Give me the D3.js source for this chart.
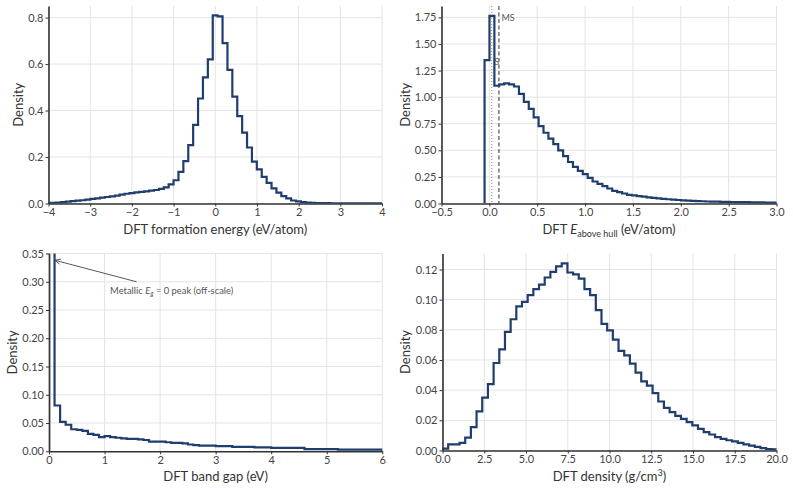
<!DOCTYPE html>
<html>
<head>
<meta charset="utf-8">
<script src="https://cdn.jsdelivr.net/npm/d3@7"></script>
<style>
body { margin: 0; background: #fff; }
svg { font-family: Lato, "DejaVu Sans", sans-serif; }
</style>
</head>
<body>
<script>
// histogram data (bin start, bin width, density per bin)
var formationStart = -4.055, formationWidth = 0.1175;
var formationDensity = [
  0.002, 0.003, 0.004, 0.006, 0.008, 0.010, 0.012, 0.014, 0.017, 0.020,
  0.022, 0.025, 0.028, 0.031, 0.034, 0.038, 0.042, 0.045, 0.048, 0.050,
  0.052, 0.055, 0.058, 0.063, 0.069, 0.082, 0.100, 0.136, 0.182, 0.251,
  0.338, 0.452, 0.543, 0.620, 0.810, 0.805, 0.690, 0.575, 0.460, 0.376,
  0.305, 0.241, 0.180, 0.147, 0.115, 0.089, 0.065, 0.047, 0.032, 0.022,
  0.013, 0.009, 0.006, 0.004, 0.003, 0.002, 0.002, 0.0015, 0.001, 0.001,
  0.001, 0.0008, 0.0006, 0.0005, 0.0004, 0.0003, 0.0003, 0.0002, 0.0002
];

var hullStart = -0.05, hullWidth = 0.0513;
var hullDensity = [
  1.348, 1.765, 1.107, 1.120, 1.130, 1.120, 1.100, 1.030, 0.956, 0.890,
  0.810, 0.727, 0.665, 0.610, 0.558, 0.500, 0.445, 0.390, 0.345, 0.307,
  0.276, 0.241, 0.207, 0.185, 0.163, 0.141, 0.119, 0.107, 0.094, 0.082,
  0.076, 0.070, 0.064, 0.058, 0.053, 0.048, 0.044, 0.040, 0.036, 0.033,
  0.030, 0.027, 0.025, 0.023, 0.021, 0.019, 0.018, 0.017, 0.016, 0.015,
  0.014, 0.013, 0.012, 0.012, 0.011, 0.010, 0.010, 0.009, 0.009, 0.008
];

var gapStart = 0, gapWidth = 0.1;
var gapDensity = [
  3.0, 0.081, 0.052, 0.047, 0.039, 0.038, 0.036, 0.031, 0.029, 0.025,
  0.027, 0.025, 0.024, 0.023, 0.022, 0.022, 0.021, 0.020, 0.017, 0.017,
  0.017, 0.016, 0.015, 0.015, 0.014, 0.012, 0.011, 0.010, 0.010, 0.010,
  0.009, 0.009, 0.009, 0.008, 0.008, 0.008, 0.008, 0.007, 0.007, 0.007,
  0.006, 0.006, 0.006, 0.006, 0.006, 0.006, 0.004, 0.004, 0.004, 0.004,
  0.004, 0.004, 0.003, 0.003, 0.003, 0.003, 0.003, 0.003, 0.003, 0.003
];

var rhoStart = 0, rhoWidth = 0.34;
var rhoDensity = [
  0.0013, 0.004, 0.004, 0.005, 0.0085, 0.0155, 0.026, 0.035, 0.044, 0.058,
  0.067, 0.0786, 0.087, 0.0956, 0.0985, 0.103, 0.107, 0.110, 0.1147, 0.1184,
  0.122, 0.124, 0.118, 0.1167, 0.114, 0.107, 0.103, 0.093, 0.084, 0.0797,
  0.0735, 0.066, 0.063, 0.0576, 0.0516, 0.0458, 0.043, 0.038, 0.0325, 0.0283,
  0.0255, 0.023, 0.021, 0.0188, 0.0166, 0.0144, 0.0122, 0.0106, 0.0089, 0.0077,
  0.0068, 0.006, 0.0051, 0.004, 0.0032, 0.0024, 0.0016, 0.001, 0.0007, 0.0004
];

// thresholds in the E above hull panel
var stableCut = 0.025, metastableCut = 0.1;

// tick values
var formationTicksX = [-4, -3, -2, -1, 0, 1, 2, 3, 4];
var formationTicksY = [0, 0.2, 0.4, 0.6, 0.8];
var hullTicksX = [-0.5, 0, 0.5, 1, 1.5, 2, 2.5, 3];
var hullTicksY = [0, 0.25, 0.5, 0.75, 1, 1.25, 1.5, 1.75];
var gapTicksX = [0, 1, 2, 3, 4, 5, 6];
var gapTicksY = [0, 0.05, 0.1, 0.15, 0.2, 0.25, 0.3, 0.35];
var rhoTicksX = [0, 2.5, 5, 7.5, 10, 12.5, 15, 17.5, 20];
var rhoTicksY = [0, 0.02, 0.04, 0.06, 0.08, 0.1, 0.12];

var lineColor = '#1f3d6e';

var svg = d3.select('body').append('svg')
  .attr('width', 793)
  .attr('height', 490);

var defs = svg.append('defs');

var drawPanel = function(p) {
  var x = d3.scaleLinear().domain(p.xDomain).range([p.left, p.right]);
  var y = d3.scaleLinear().domain(p.yDomain).range([p.bottom, p.top]);
  var g = svg.append('g');

  // grid
  g.selectAll('.gx').data(p.ticksX).enter().append('line')
    .attr('x1', function(d) { return x(d); })
    .attr('x2', function(d) { return x(d); })
    .attr('y1', p.top).attr('y2', p.bottom)
    .attr('stroke', '#e4e4e4').attr('stroke-width', 1);
  g.selectAll('.gy').data(p.ticksY).enter().append('line')
    .attr('y1', function(d) { return y(d); })
    .attr('y2', function(d) { return y(d); })
    .attr('x1', p.left).attr('x2', p.right)
    .attr('stroke', '#e4e4e4').attr('stroke-width', 1);

  if (p.extra) p.extra(g, x, y);

  // step histogram
  var pts = [[p.start, 0]];
  p.values.forEach(function(v, i) {
    pts.push([p.start + i * p.width, v]);
    pts.push([p.start + (i + 1) * p.width, v]);
  });
  pts.push([p.start + p.values.length * p.width, 0]);

  defs.append('clipPath').attr('id', p.id)
    .append('rect')
    .attr('x', p.left).attr('y', p.top)
    .attr('width', p.right - p.left).attr('height', p.bottom - p.top);

  var line = d3.line()
    .x(function(d) { return x(d[0]); })
    .y(function(d) { return y(d[1]); });

  g.append('path')
    .attr('d', line(pts))
    .attr('clip-path', 'url(#' + p.id + ')')
    .attr('fill', 'none')
    .attr('stroke', lineColor)
    .attr('stroke-width', 2.2)
    .attr('stroke-linejoin', 'miter');

  if (p.after) p.after(g, x, y);

  // axes
  var ax = g.append('g').attr('transform', 'translate(0,' + p.bottom + ')')
    .call(d3.axisBottom(x).tickValues(p.ticksX).tickFormat(d3.format(p.fmtX))
      .tickSize(3).tickSizeOuter(0).tickPadding(2));
  var ay = g.append('g').attr('transform', 'translate(' + p.left + ',0)')
    .call(d3.axisLeft(y).tickValues(p.ticksY).tickFormat(d3.format(p.fmtY))
      .tickSize(3).tickSizeOuter(0).tickPadding(2));
  [ax, ay].forEach(function(a) {
    a.select('.domain').attr('stroke', '#333').attr('stroke-width', 1.6);
    a.selectAll('.tick line').attr('stroke', '#333');
    a.selectAll('.tick text').attr('fill', '#444')
      .style('font-size', '11px').style('font-family', 'Lato');
  });

  // labels
  var xt = g.append('text')
    .attr('x', (p.left + p.right) / 2)
    .attr('y', p.bottom + 30)
    .attr('text-anchor', 'middle')
    .attr('fill', '#333')
    .style('font-size', '13px');
  p.title(xt);

  g.append('text')
    .attr('transform', 'translate(' + p.ylabelX + ',' + ((p.top + p.bottom) / 2) + ') rotate(-90)')
    .attr('text-anchor', 'middle')
    .attr('dominant-baseline', 'central')
    .attr('fill', '#333')
    .style('font-size', '13px')
    .text('Density');
};

drawPanel({
  id: 'c1', left: 48.5, right: 382, top: 6, bottom: 203.5,
  xDomain: [-4, 4], yDomain: [0, 0.85],
  ticksX: formationTicksX, ticksY: formationTicksY, fmtX: 'd', fmtY: '.1f',
  start: formationStart, width: formationWidth, values: formationDensity,
  ylabelX: 18,
  title: function(t) { t.text('DFT formation energy (eV/atom)'); }
});

drawPanel({
  id: 'c2', left: 441.5, right: 776.5, top: 6, bottom: 203.5,
  xDomain: [-0.5, 3], yDomain: [0, 1.857],
  ticksX: hullTicksX, ticksY: hullTicksY, fmtX: '.1f', fmtY: '.2f',
  start: hullStart, width: hullWidth, values: hullDensity,
  ylabelX: 405,
  extra: function(g, x, y) {
    g.append('line')
      .attr('x1', x(stableCut)).attr('x2', x(stableCut))
      .attr('y1', y.range()[1]).attr('y2', y.range()[0])
      .attr('stroke', '#888').attr('stroke-width', 1).attr('stroke-dasharray', '1,2');
    g.append('line')
      .attr('x1', x(metastableCut)).attr('x2', x(metastableCut))
      .attr('y1', y.range()[1]).attr('y2', y.range()[0])
      .attr('stroke', '#333').attr('stroke-width', 1).attr('stroke-dasharray', '4,2.5');
    g.append('text')
      .attr('x', x(stableCut) + 2.5).attr('y', y(1.3))
      .attr('fill', '#666').style('font-size', '9px').text('S');
    g.append('text')
      .attr('x', x(metastableCut) + 2.5).attr('y', y(1.715))
      .attr('fill', '#555').style('font-size', '9px').text('MS');
  },
  title: function(t) {
    t.append('tspan').text('DFT ');
    t.append('tspan').style('font-style', 'italic').text('E');
    t.append('tspan').attr('dy', 3).style('font-size', '9px').text('above hull');
    t.append('tspan').attr('dy', -3).text(' (eV/atom)');
  }
});

drawPanel({
  id: 'c3', left: 49, right: 382.3, top: 253.5, bottom: 451.3,
  xDomain: [0, 6], yDomain: [0, 0.35],
  ticksX: gapTicksX, ticksY: gapTicksY, fmtX: 'd', fmtY: '.2f',
  start: gapStart, width: gapWidth, values: gapDensity,
  ylabelX: 12,
  after: function(g, x, y) {
    var x0 = x(1.575), y0 = y(0.30), x1 = x(0.108), y1 = y(0.338);
    var ang = Math.atan2(y1 - y0, x1 - x0);
    g.append('line')
      .attr('x1', x0).attr('y1', y0).attr('x2', x1).attr('y2', y1)
      .attr('stroke', '#444').attr('stroke-width', 0.9);
    var hl = 6, hw = 0.45;
    g.append('path')
      .attr('d', 'M' + (x1 - hl * Math.cos(ang - hw)) + ',' + (y1 - hl * Math.sin(ang - hw)) +
        'L' + x1 + ',' + y1 +
        'L' + (x1 - hl * Math.cos(ang + hw)) + ',' + (y1 - hl * Math.sin(ang + hw)))
      .attr('fill', 'none').attr('stroke', '#444').attr('stroke-width', 0.9);
    var t = g.append('text')
      .attr('x', x(1.1)).attr('y', y(0.279))
      .attr('fill', '#555').style('font-size', '9.4px');
    t.append('tspan').text('Metallic ');
    t.append('tspan').style('font-style', 'italic').text('E');
    t.append('tspan').attr('dy', 2).style('font-size', '6.8px').style('font-style', 'italic').text('g');
    t.append('tspan').attr('dy', -2).text(' = 0 peak (off-scale)');
  },
  title: function(t) { t.text('DFT band gap (eV)'); }
});

drawPanel({
  id: 'c4', left: 442.5, right: 776.5, top: 253.5, bottom: 450.5,
  xDomain: [0, 20], yDomain: [0, 0.1306],
  ticksX: rhoTicksX, ticksY: rhoTicksY, fmtX: '.1f', fmtY: '.2f',
  start: rhoStart, width: rhoWidth, values: rhoDensity,
  ylabelX: 405,
  title: function(t) {
    t.append('tspan').text('DFT density (g/cm');
    t.append('tspan').attr('dy', -5).style('font-size', '9px').text('3');
    t.append('tspan').attr('dy', 5).text(')');
  }
});
</script>
</body>
</html>
